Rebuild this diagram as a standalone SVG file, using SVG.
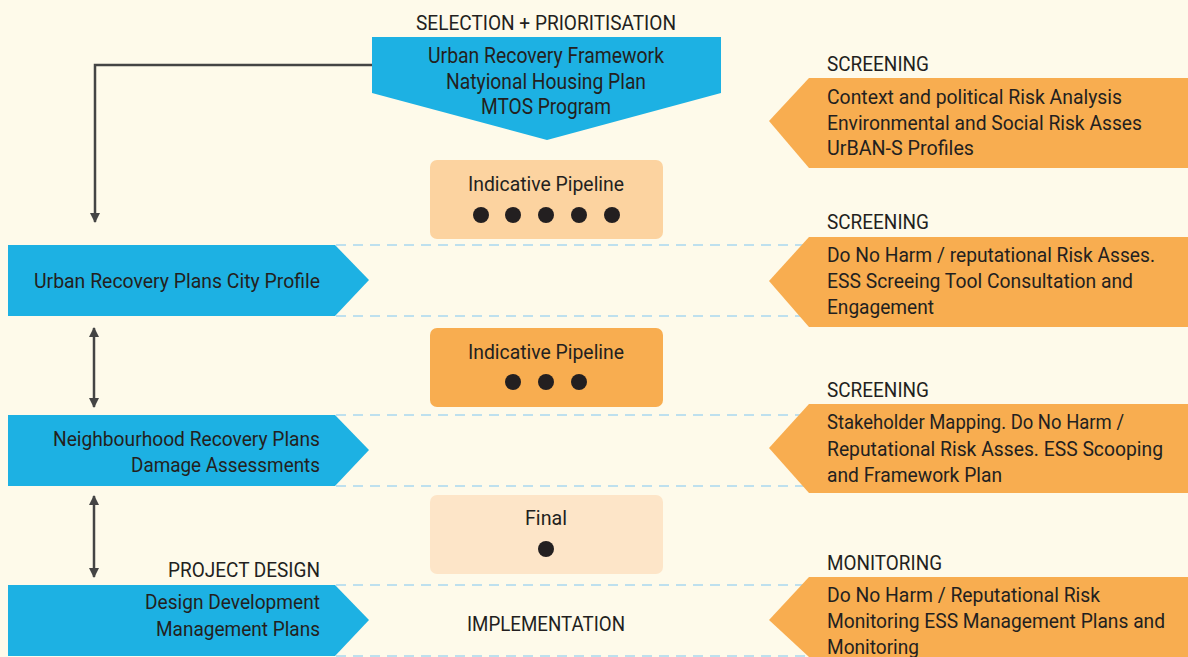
<svg xmlns="http://www.w3.org/2000/svg" width="1188" height="657" viewBox="0 0 1188 657">
<defs>
<style>
text{font-family:Roboto,"Liberation Sans",sans-serif;font-size:20px;fill:#231F20}
.big{font-size:21.5px}
.blue{fill:#1DB1E3}
.orange{fill:#F8AD50}
.c{text-anchor:middle}
.r{text-anchor:end}
.dash{stroke:#A9D8F0;stroke-width:1.5;stroke-dasharray:10 7;fill:none}
.conn{stroke:#444;stroke-width:2.5;fill:none}
.dot{fill:#231F20}
</style>
<marker id="ah" viewBox="0 0 10 10" refX="9" refY="5" markerWidth="4" markerHeight="4" orient="auto-start-reverse" markerUnits="strokeWidth">
<path d="M0,0 L10,5 L0,10 z" fill="#444"/>
</marker>
</defs>
<rect width="1188" height="657" fill="#FEFAEA"/>

<g id="guides">
<line class="dash" x1="336" y1="245" x2="810" y2="245"/>
<line class="dash" x1="336" y1="316" x2="810" y2="316"/>
<line class="dash" x1="336" y1="415" x2="810" y2="415"/>
<line class="dash" x1="336" y1="486" x2="810" y2="486"/>
<line class="dash" x1="336" y1="585" x2="810" y2="585"/>
<line class="dash" x1="336" y1="656" x2="810" y2="656"/>
</g>

<g id="connectors">
<polyline class="conn" points="372,65 95,65 95,222" marker-end="url(#ah)"/>
<line class="conn" x1="94" y1="328" x2="94" y2="407" marker-start="url(#ah)" marker-end="url(#ah)"/>
<line class="conn" x1="94" y1="496" x2="94" y2="577" marker-start="url(#ah)" marker-end="url(#ah)"/>
</g>

<g id="selection">
<text class="c" x="546" y="30" textLength="260" lengthAdjust="spacingAndGlyphs">SELECTION + PRIORITISATION</text>
<polygon class="blue" points="372,37 721,37 721,93 547,140 372,93"/>
<text class="c big" x="546" y="63" textLength="236" lengthAdjust="spacingAndGlyphs">Urban Recovery Framework</text>
<text class="c big" x="546" y="89" textLength="200" lengthAdjust="spacingAndGlyphs">Natyional Housing Plan</text>
<text class="c big" x="546" y="114" textLength="130" lengthAdjust="spacingAndGlyphs">MTOS Program</text>
</g>

<g id="screening1">
<text x="827" y="71" textLength="102" lengthAdjust="spacingAndGlyphs">SCREENING</text>
<polygon class="orange" points="809,78 1188,78 1188,168 809,168 769,121"/>
<text x="827" y="104" textLength="295" lengthAdjust="spacingAndGlyphs">Context and political Risk Analysis</text>
<text x="827" y="130" textLength="315" lengthAdjust="spacingAndGlyphs">Environmental and Social Risk Asses</text>
<text x="827" y="155" textLength="147" lengthAdjust="spacingAndGlyphs">UrBAN-S Profiles</text>
</g>

<g id="pipeline1">
<rect x="430" y="160" width="233" height="79" rx="7" fill="#FCD3A0"/>
<text class="c" x="546" y="191" textLength="156" lengthAdjust="spacingAndGlyphs">Indicative Pipeline</text>
<circle class="dot" cx="481" cy="215" r="8"/>
<circle class="dot" cx="513" cy="215" r="8"/>
<circle class="dot" cx="546" cy="215" r="8"/>
<circle class="dot" cx="579" cy="215" r="8"/>
<circle class="dot" cx="612" cy="215" r="8"/>
</g>

<g id="cityprofile">
<polygon class="blue" points="8,245 335,245 369,280 335,316 8,316"/>
<text class="r" x="320" y="288" textLength="286" lengthAdjust="spacingAndGlyphs">Urban Recovery Plans City Profile</text>
</g>

<g id="screening2">
<text x="827" y="229" textLength="102" lengthAdjust="spacingAndGlyphs">SCREENING</text>
<polygon class="orange" points="809,237 1188,237 1188,327 809,327 769,281"/>
<text x="827" y="262" textLength="328" lengthAdjust="spacingAndGlyphs">Do No Harm / reputational Risk Asses.</text>
<text x="827" y="288" textLength="306" lengthAdjust="spacingAndGlyphs">ESS Screeing Tool Consultation and</text>
<text x="827" y="314" textLength="107" lengthAdjust="spacingAndGlyphs">Engagement</text>
</g>

<g id="pipeline2">
<rect x="430" y="328" width="233" height="79" rx="7" fill="#F8AD50"/>
<text class="c" x="546" y="359" textLength="156" lengthAdjust="spacingAndGlyphs">Indicative Pipeline</text>
<circle class="dot" cx="513" cy="382" r="8"/>
<circle class="dot" cx="546" cy="382" r="8"/>
<circle class="dot" cx="579" cy="382" r="8"/>
</g>

<g id="neighbourhood">
<polygon class="blue" points="8,415 335,415 369,450 335,486 8,486"/>
<text class="r" x="320" y="446" textLength="267" lengthAdjust="spacingAndGlyphs">Neighbourhood Recovery Plans</text>
<text class="r" x="320" y="472" textLength="189" lengthAdjust="spacingAndGlyphs">Damage Assessments</text>
</g>

<g id="screening3">
<text x="827" y="397" textLength="102" lengthAdjust="spacingAndGlyphs">SCREENING</text>
<polygon class="orange" points="809,404 1188,404 1188,493 809,493 769,448"/>
<text x="827" y="429" textLength="297" lengthAdjust="spacingAndGlyphs">Stakeholder Mapping. Do No Harm /</text>
<text x="827" y="456" textLength="336" lengthAdjust="spacingAndGlyphs">Reputational Risk Asses. ESS Scooping</text>
<text x="827" y="482" textLength="175" lengthAdjust="spacingAndGlyphs">and Framework Plan</text>
</g>

<g id="final">
<rect x="430" y="495" width="233" height="79" rx="7" fill="#FDE5C8"/>
<text class="c" x="546" y="525" textLength="42" lengthAdjust="spacingAndGlyphs">Final</text>
<circle class="dot" cx="546" cy="549" r="8"/>
</g>

<g id="projectdesign">
<text class="r" x="320" y="577" textLength="152" lengthAdjust="spacingAndGlyphs">PROJECT DESIGN</text>
<polygon class="blue" points="8,585 335,585 369,620 335,656 8,656"/>
<text class="r" x="320" y="609" textLength="175" lengthAdjust="spacingAndGlyphs">Design Development</text>
<text class="r" x="320" y="636" textLength="164" lengthAdjust="spacingAndGlyphs">Management Plans</text>
</g>

<g id="implementation">
<text class="c" x="546" y="631" textLength="158" lengthAdjust="spacingAndGlyphs">IMPLEMENTATION</text>
</g>

<g id="monitoring">
<text x="827" y="570" textLength="115" lengthAdjust="spacingAndGlyphs">MONITORING</text>
<polygon class="orange" points="809,577 1188,577 1188,657 809,657 769,620"/>
<text x="827" y="602" textLength="273" lengthAdjust="spacingAndGlyphs">Do No Harm / Reputational Risk</text>
<text x="827" y="628" textLength="338" lengthAdjust="spacingAndGlyphs">Monitoring ESS Management Plans and</text>
<text x="827" y="654" textLength="92" lengthAdjust="spacingAndGlyphs">Monitoring</text>
</g>
</svg>
